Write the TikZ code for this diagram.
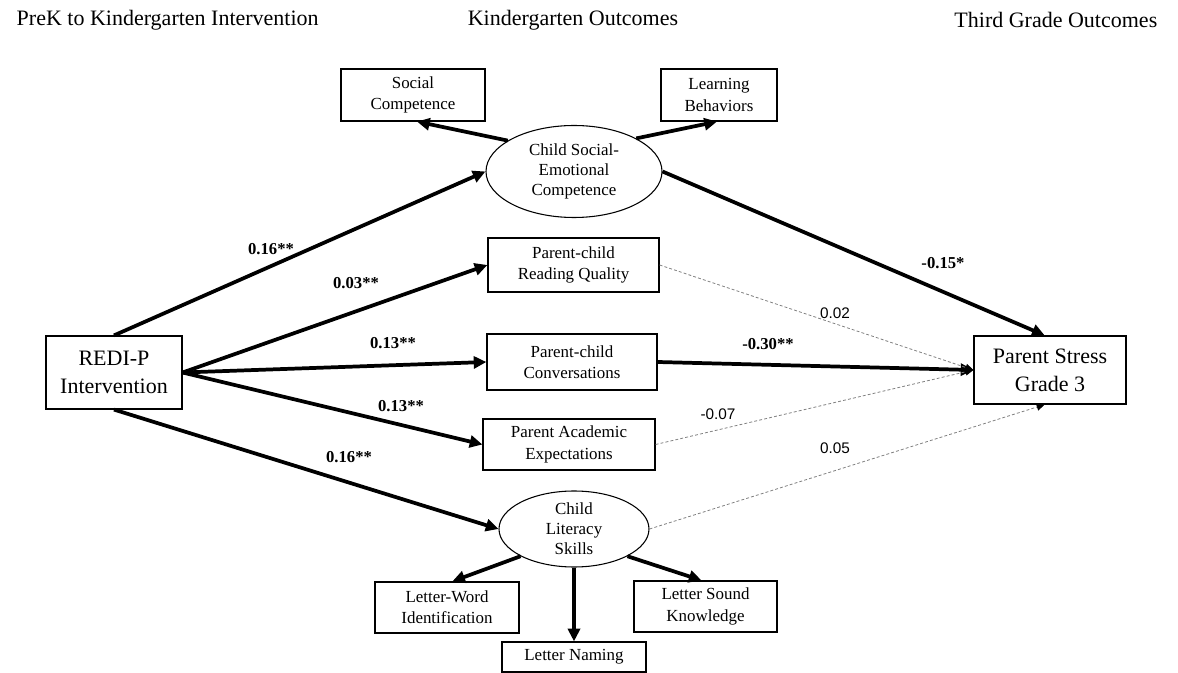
\documentclass[tikz,border=0pt]{standalone}
\usepackage{fontspec}
\setmainfont{Liberation Serif}
\newfontfamily\arialfont{Liberation Sans}
\usetikzlibrary{arrows.meta,shapes.geometric}

\tikzset{
  box/.style={draw,line width=0.9pt,inner sep=0pt,align=center,font=\fontsize{12.7}{16}\selectfont},
  bigbox/.style={box,font=\fontsize{16.5}{21}\selectfont},
  latent/.style={ellipse,draw,line width=0.8pt,inner sep=-2pt,align=center,font=\fontsize{12.7}{15}\selectfont},
  effect/.style={line width=2.8pt,-{Triangle[length=9.5pt,width=9pt]}},
  weak/.style={gray,line width=0.6pt,dash pattern=on 2.2pt off 1.6pt,-{Triangle[length=6pt,width=5.5pt,black]}},
  coef/.style={font=\bfseries\fontsize{12.5}{15}\selectfont},
  nscoef/.style={font=\arialfont\fontsize{11.5}{14}\selectfont},
  heading/.style={font=\fontsize{16.5}{20}\selectfont}
}

\begin{document}
\begin{tikzpicture}[x=0.75pt,y=-0.75pt]
  \useasboundingbox (0,0) rectangle (1178,673);

  \node[heading,anchor=west] (hprek) at (12,20) {PreK to Kindergarten Intervention};
  \node[heading] (hkinder) at (573,20) {Kindergarten Outcomes};
  \node[heading,anchor=east] (hthird) at (1162,20) {Third Grade Outcomes};

  \node[bigbox,minimum width=102pt,minimum height=54.75pt] (redip) at (114,372.5) {REDI-P\\Intervention};
  \node[bigbox,minimum width=114pt,minimum height=51pt] (stress) at (1050,370) {Parent Stress\\Grade 3};

  \node[latent,minimum width=132pt,minimum height=69pt] (socemo) at (574,171.5) {Child Social-\\Emotional\\Competence};
  \node[box,minimum width=108pt,minimum height=39pt] (soccomp) at (413,95) {Social\\Competence};
  \node[box,minimum width=87pt,minimum height=39pt] (learnbeh) at (719,95) {Learning\\Behaviors};

  \node[box,minimum width=128.25pt,minimum height=40.5pt] (readq) at (573.5,265) {Parent-child\\Reading Quality};
  \node[box,minimum width=127.5pt,minimum height=42pt] (conv) at (572,362) {Parent-child\\Conversations};
  \node[box,minimum width=129pt,minimum height=38.25pt] (expect) at (569,444.5) {Parent Academic\\Expectations};

  \node[latent,minimum width=112.5pt,minimum height=57pt] (literacy) at (574,529) {Child\\Literacy\\Skills};
  \node[box,minimum width=108pt,minimum height=38.25pt] (lwid) at (447,607.5) {Letter-Word\\Identification};
  \node[box,minimum width=107.25pt,minimum height=38.25pt] (lsound) at (705.5,606.5) {Letter Sound\\Knowledge};
  \node[box,minimum width=108pt,minimum height=22.5pt] (lnaming) at (574,657) {Letter Naming};

  \draw[effect] (redip.north) -- (socemo.west);
  \draw[effect] (redip.east) -- (readq.west);
  \draw[effect] (redip.east) -- (conv.west);
  \draw[effect] (redip.east) -- (expect.west);
  \draw[effect] (redip.south) -- (literacy.west);

  \draw[effect] (socemo.155) -- ([xshift=3pt]soccomp.south);
  \draw[effect] (socemo.28) -- ([xshift=-1.5pt]learnbeh.south);
  \draw[effect] (socemo.east) -- ([xshift=-4pt]stress.north);
  \draw[effect] (conv.east) -- (stress.west);

  \draw[weak] (readq.east) -- (stress.west);
  \draw[weak] (expect.east) -- (stress.west);
  \draw[weak] (literacy.east) -- ([xshift=-4pt]stress.south);

  \draw[effect] (literacy.207) -- ([xshift=4pt]lwid.north);
  \draw[effect] (literacy.south) -- (lnaming.north);
  \draw[effect] (literacy.333) -- ([xshift=-3pt]lsound.north);

  \node[coef] (bsocemo) at (271,249) {0.16**};
  \node[coef] (breadq) at (356,283) {0.03**};
  \node[coef] (bconv) at (393,343) {0.13**};
  \node[coef] (bexpect) at (401,406) {0.13**};
  \node[coef] (bliteracy) at (349,457) {0.16**};
  \node[coef] (bstresssoc) at (943,263) {-0.15*};
  \node[coef] (bstressconv) at (768,344) {-0.30**};
  \node[nscoef] (bstressread) at (835,313) {0.02};
  \node[nscoef] (bstressexp) at (718,414) {-0.07};
  \node[nscoef] (bstresslit) at (835,448) {0.05};
\end{tikzpicture}
\end{document}
